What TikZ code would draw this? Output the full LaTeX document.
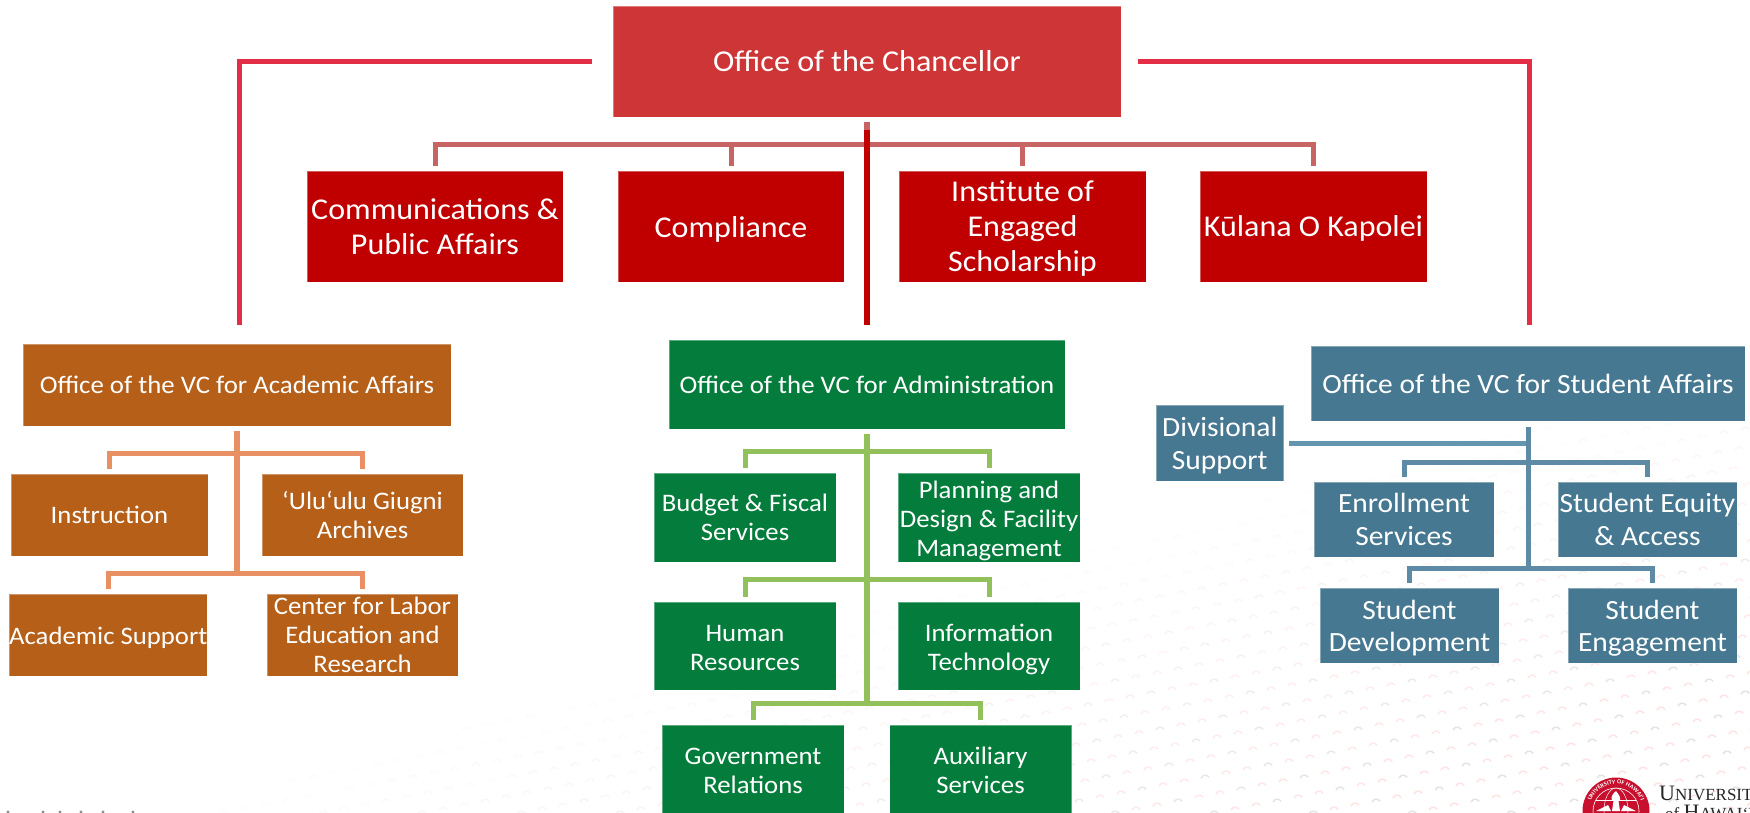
\documentclass[tikz,border=0pt]{standalone}
\usepackage{fontspec}
\setmainfont[FakeStretch=1.06]{Carlito}
\newfontfamily\logofont{Liberation Serif}
\usetikzlibrary{decorations.text}
\definecolor{cChan}{HTML}{CE3536}
\definecolor{cRed}{HTML}{C00000}
\definecolor{cOrange}{HTML}{B55F18}
\definecolor{cGreen}{HTML}{047D3C}
\definecolor{cBlue}{HTML}{477891}
\definecolor{cSeal}{HTML}{C8102E}
\definecolor{lRed}{HTML}{E32E46}
\definecolor{lRose}{HTML}{C96464}
\definecolor{lOrange}{HTML}{E98F64}
\definecolor{lGreen}{HTML}{92C05A}
\definecolor{lBlue}{HTML}{6596B0}
\definecolor{lBlueD}{HTML}{5D8BA6}
\newcommand\nudge[1]{\rule{0pt}{\dimexpr .73em+2\dimexpr #1\relax\relax}}
\tikzset{
  box/.style={rectangle,inner sep=0pt,text=white,align=center,draw=white,draw opacity=.35,line width=.6pt},
  bigf/.style={font=\fontsize{30.3}{36}\selectfont},
  midf/.style={font=\fontsize{30.2}{35}\selectfont},
  offf/.style={font=\fontsize{25.3}{30}\selectfont},
  orgf/.style={font=\fontsize{25.2}{29}\selectfont},
  grnf/.style={font=\fontsize{25.2}{29}\selectfont},
  bluf/.style={font=\fontsize{27.8}{32.5}\selectfont},
  conn/.style={line width=#1,line join=miter,line cap=butt},
  conn/.default=5pt
}
\begin{document}
\begin{tikzpicture}[x=1pt,y=-1pt]
\useasboundingbox[fill=white] (0,0) rectangle (1750,812);
% faint background marks
\foreach \i in {-30,...,85}{
  \foreach \j in {0,...,45}{
    \pgfmathtruncatemacro{\px}{21*\i+15*\j-100}
    \pgfmathtruncatemacro{\py}{440-4*\i+16*\j}
    \pgfmathtruncatemacro{\s}{min(11,max(0,(\px+3.5*\py-2900)/110))}
    \pgfmathtruncatemacro{\alt}{mod(\i+2*\j+90,3)}
    \ifnum\s>0
      \ifnum\py<825
        \ifnum\px<1760
          \ifnum\alt=0
            \draw[line width=1.5pt,black!\s!white] (\px-4,\py+2) arc[start angle=200,end angle=330,radius=4.5];
          \else
            \draw[line width=1.5pt,red!\s!white] (\px-4,\py+2) arc[start angle=200,end angle=330,radius=4.5];
          \fi
        \fi
      \fi
    \fi
  }
}
% bottom-left fragments
\foreach \dx in {8,43,60,81,103,133}{\fill[black!45] (\dx,812) circle[radius=1.6];}

% row coordinates
\coordinate (roseY) at (0,144);
\coordinate (acBusA) at (0,453);
\coordinate (acBusB) at (0,573);
\coordinate (adBusA) at (0,451);
\coordinate (adBusB) at (0,579);
\coordinate (adBusC) at (0,703);
\coordinate (stBusA) at (0,462);
\coordinate (stBusB) at (0,568);
\coordinate (lCol) at (239,0);
\coordinate (rCol) at (1529,0);

% nodes
\node[box,bigf,fill=cChan,minimum width=508pt,minimum height=111pt] (chan) at (867,61.5) {Office of the Chancellor};

\node[box,midf,fill=cRed,minimum width=256pt,minimum height=111pt] (comm) at (435,226.5) {Communications \&\\Public Affairs};
\node[box,midf,fill=cRed,minimum width=226pt,minimum height=111pt] (comp) at (731,226.5) {\nudge{2pt}Compliance};
\node[box,midf,fill=cRed,minimum width=247pt,minimum height=111pt] (inst) at (1022.5,226.5) {\nudge{1.4pt}Institute of\\Engaged\\Scholarship};
\node[box,midf,fill=cRed,minimum width=227pt,minimum height=111pt] (kula) at (1313.5,226.5) {\nudge{1pt}Kūlana O Kapolei};

\node[box,offf,fill=cOrange,minimum width=428pt,minimum height=82pt] (acad) at (237,385) {Office of the VC for Academic Affairs};
\node[box,offf,fill=cGreen,minimum width=396pt,minimum height=89pt] (admin) at (867,384.5) {Office of the VC for Administration};
\node[box,bluf,fill=cBlue,minimum width=434pt,minimum height=75pt] (stud) at (1528,383.5) {Office of the VC for Student Affairs};
\node[box,bluf,fill=cBlue,minimum width=127.5pt,minimum height=76pt] (divs) at (1219.75,443) {\nudge{2.2pt}Divisional\\Support};

\node[box,orgf,fill=cOrange,minimum width=197pt,minimum height=82pt] (inst2) at (109.5,515) {Instruction};
\node[box,orgf,fill=cOrange,minimum width=201pt,minimum height=82pt] (ulu) at (362.5,515) {‘Ulu‘ulu Giugni\\Archives};
\node[box,orgf,fill=cOrange,minimum width=197.5pt,minimum height=82pt] (asup) at (108.25,635) {\nudge{2.2pt}Academic Support};
\node[box,orgf,fill=cOrange,minimum width=191pt,minimum height=82pt] (labor) at (362.5,635) {Center for Labor\\Education and\\Research};

\node[box,grnf,fill=cGreen,minimum width=182pt,minimum height=89pt] (budg) at (745,517.5) {Budget \& Fiscal\\Services};
\node[box,grnf,fill=cGreen,minimum width=182pt,minimum height=89pt] (plan) at (989,517.5) {\nudge{3.3pt}Planning and\\Design \& Facility\\Management};
\node[box,grnf,fill=cGreen,minimum width=182pt,minimum height=88pt] (hr) at (745,646) {\nudge{1pt}Human\\Resources};
\node[box,grnf,fill=cGreen,minimum width=182pt,minimum height=88pt] (it) at (989,646) {\nudge{3.3pt}Information\\Technology};
\node[box,grnf,fill=cGreen,minimum width=182pt,minimum height=88pt] (gov) at (753,769) {\nudge{1pt}Government\\Relations};
\node[box,grnf,fill=cGreen,minimum width=182pt,minimum height=88pt] (aux) at (980.5,769) {\nudge{1pt}Auxiliary\\Services};

\node[box,bluf,fill=cBlue,minimum width=180pt,minimum height=75pt] (enrl) at (1404,519.5) {Enrollment\\Services};
\node[box,bluf,fill=cBlue,minimum width=179pt,minimum height=75pt] (eqty) at (1647.5,519.5) {Student Equity\\\& Access};
\node[box,bluf,fill=cBlue,minimum width=179pt,minimum height=75pt] (devl) at (1409.5,625.5) {\nudge{2.2pt}Student\\Development};
\node[box,bluf,fill=cBlue,minimum width=169pt,minimum height=75pt] (enga) at (1652.5,625.5) {\nudge{2.2pt}Student\\Engagement};

% top connectors
\draw[conn=5pt,lRed,shorten <=21pt,shorten >=19pt] (chan.west) -- (chan.west -| lCol) -- ([xshift=2pt]acad.north);
\draw[conn=5pt,lRed,shorten <=17pt,shorten >=21pt] (chan.east) -- (chan.east -| rCol) -- ([xshift=1pt]stud.north);
\draw[conn=5pt,lRose,shorten <=5pt,shorten >=5pt] (comm.north) -- (comm.north |- roseY) -- (kula.north |- roseY) -- (kula.north);
\draw[conn=5pt,lRose,shorten >=5pt] (comp.north |- roseY) -- (comp.north);
\draw[conn=5pt,lRose,shorten >=5pt] (inst.north |- roseY) -- (inst.north);
\draw[conn=6pt,lRose,shorten <=5pt] (chan.south) -- ++(0,14);
\draw[conn=5.5pt,cRed,shorten <=13pt,shorten >=15pt] (chan.south) -- (admin.north);

% academic affairs
\draw[conn=5.5pt,lOrange,shorten <=5pt] (acad.south) -- (acad.south |- acBusB);
\draw[conn=5pt,lOrange,shorten <=5pt,shorten >=5pt] (inst2.north) -- (inst2.north |- acBusA) -- (ulu.north |- acBusA) -- (ulu.north);
\draw[conn=5pt,lOrange,shorten <=5pt,shorten >=5pt] (asup.north) -- (asup.north |- acBusB) -- (labor.north |- acBusB) -- (labor.north);

% administration
\draw[conn=5.5pt,lGreen,shorten <=5pt] (admin.south) -- (admin.south |- adBusC);
\draw[conn=5pt,lGreen,shorten <=5pt,shorten >=5pt] (budg.north) -- (budg.north |- adBusA) -- (plan.north |- adBusA) -- (plan.north);
\draw[conn=5pt,lGreen,shorten <=5pt,shorten >=5pt] (hr.north) -- (hr.north |- adBusB) -- (it.north |- adBusB) -- (it.north);
\draw[conn=5pt,lGreen,shorten <=5pt,shorten >=5pt] (gov.north) -- (gov.north |- adBusC) -- (aux.north |- adBusC) -- (aux.north);

% student affairs
\draw[conn=5pt,lBlue,shorten <=5.5pt] (divs.east) -- (divs.east -| stud.south);
\draw[conn=5pt,lBlueD,shorten <=5pt,shorten >=5pt] (enrl.north) -- (enrl.north |- stBusA) -- (eqty.north |- stBusA) -- (eqty.north);
\draw[conn=5pt,lBlueD,shorten <=5pt,shorten >=5pt] (devl.north) -- (devl.north |- stBusB) -- (enga.north |- stBusB) -- (enga.north);
\draw[conn=5pt,lBlueD,shorten <=6pt] (stud.south) -- (stud.south |- stBusB);

% logo
\begin{scope}[shift={(1616,811)},y=1pt]
  \fill[cSeal] (0,0) circle[radius=33.5];
  \draw[white,line width=.6pt] (0,0) circle[radius=23];
  \path[decorate,decoration={text along path,text align=center,
    text={|\fontsize{6}{7}\selectfont\bfseries\color{white}|UNIVERSITY OF HAWAI‘I}}]
    (-27,0) arc[start angle=180,end angle=0,radius=27];
  \draw[white,line width=.5pt] (0,0) ellipse[x radius=12,y radius=23];
  \draw[white,line width=.5pt] (-20,11) -- (20,11);
  \fill[white] (-4,0) -- (-2.5,10) -- (2.5,10) -- (4,0) -- cycle;
  \fill[white] (0,20) .. controls (-6,15) and (-5,11) .. (-3,10) -- (3,10) .. controls (6,12) and (3,16) .. (0,20) -- cycle;
  \fill[white] (-20,0) -- (-8,6) -- (-5,0) -- cycle;
  \fill[white] (20,0) -- (8,6) -- (5,0) -- cycle;
\end{scope}
\node[anchor=base west,inner sep=0pt,text=black!85] (uni) at (1659,800) {\logofont\fontsize{22}{22}\selectfont U\fontsize{17}{22}\selectfont NIVERSITY};
\node[anchor=base west,inner sep=0pt,text=black!85] (haw) at (1665,819) {\logofont\fontsize{17}{22}\selectfont of \fontsize{22}{22}\selectfont H\fontsize{17}{22}\selectfont AWAI‘I};
\end{tikzpicture}
\end{document}
